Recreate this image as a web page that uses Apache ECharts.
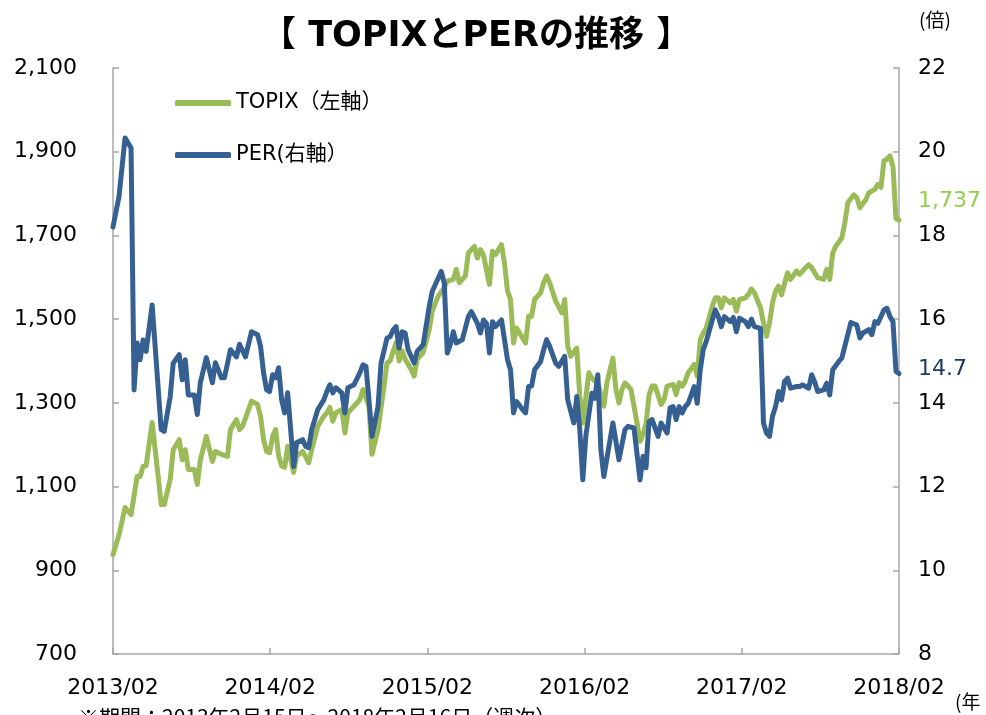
<!DOCTYPE html>
<html>
<head>
<meta charset="utf-8">
<title>TOPIXとPERの推移</title>
<script src="https://cdn.jsdelivr.net/npm/echarts@6/dist/echarts.min.js"></script>
<style>
  html, body { margin: 0; padding: 0; background: #fff; }
  #main { width: 986px; height: 715px; }
</style>
</head>
<body>
<div id="main"></div>
<script>
// weekly closes from 2013/02/15 (week 0) to 2018/02/16 (week 261)
const yearLabels = ['2013/02', '2014/02', '2015/02', '2016/02', '2017/02', '2018/02'];
const weeksPerYear = 52.2;

// TOPIX (left axis) [week, value]
const topix = [
  [0,937],[2,985],[4,1050],[6,1033],[8,1124],[9,1124],[10,1148],[11,1150],[13,1253],[15,1124],
  [16,1057],[17,1057],[19,1117],[20,1188],[22,1212],[23,1164],[24,1188],[25,1141],[27,1141],[28,1105],
  [29,1164],[31,1220],[33,1160],[34,1184],[36,1177],[38,1172],[39,1236],[41,1260],[42,1236],[43,1244],
  [45,1284],[46,1304],[48,1296],[49,1268],[50,1212],[51,1184],[52,1181],[53,1220],[54,1236],[55,1173],
  [56,1149],[57,1146],[58,1196],[60,1134],[61,1173],[63,1184],[65,1157],[66,1189],[68,1244],[70,1268],
  [71,1276],[72,1289],[73,1256],[74,1276],[76,1284],[77,1228],[78,1276],[80,1292],[82,1308],[83,1332],
  [85,1292],[86,1177],[88,1236],[90,1340],[91,1396],[92,1400],[94,1444],[95,1400],[96,1424],[97,1404],
  [99,1380],[100,1364],[101,1404],[103,1420],[105,1475],[106,1519],[108,1555],[110,1575],[111,1591],[113,1595],
  [114,1619],[115,1587],[117,1603],[118,1658],[120,1674],[121,1646],[122,1666],[123,1654],[125,1583],[126,1662],
  [127,1654],[129,1678],[130,1634],[131,1567],[132,1547],[133,1443],[134,1479],[135,1467],[137,1443],[138,1507],
  [139,1507],[140,1547],[142,1563],[143,1587],[144,1603],[145,1587],[147,1543],[149,1515],[150,1547],[151,1435],
  [152,1411],[154,1431],[155,1316],[156,1252],[158,1372],[159,1360],[160,1352],[161,1348],[163,1292],[164,1348],
  [166,1407],[167,1332],[168,1300],[169,1332],[170,1348],[172,1332],[174,1252],[175,1208],[176,1225],[177,1250],
  [178,1318],[179,1340],[180,1340],[182,1296],[183,1308],[184,1340],[186,1344],[187,1320],[188,1348],[189,1340],
  [190,1352],[191,1372],[193,1392],[194,1364],[195,1451],[196,1467],[197,1479],[199,1531],[200,1551],[201,1551],
  [202,1527],[203,1551],[205,1539],[206,1547],[207,1519],[208,1547],[210,1551],[211,1559],[212,1572],[213,1563],
  [215,1527],[216,1491],[217,1459],[218,1491],[219,1539],[220,1567],[221,1579],[222,1558],[224,1611],[225,1595],
  [227,1615],[228,1607],[230,1623],[231,1630],[232,1623],[234,1599],[236,1595],[237,1619],[238,1595],[239,1658],
  [240,1674],[242,1694],[243,1730],[244,1778],[246,1797],[247,1790],[248,1766],[250,1786],[251,1802],[253,1810],
  [254,1822],[255,1815],[256,1878],[257,1882],[258,1890],[259,1865],[260,1740],[261,1737]
];

// PER (right axis) [week, value]
const per = [
  [0,18.2],[2,18.93],[4,20.33],[6,20.09],[7,14.31],[8,15.43],[9,15.03],[10,15.5],[11,15.23],[13,16.34],
  [16,13.36],[17,13.32],[19,14.15],[20,14.95],[22,15.15],[23,14.55],[24,15.03],[25,14.19],[27,14.19],[28,13.72],
  [29,14.48],[31,15.08],[33,14.48],[34,14.96],[36,14.6],[37,14.6],[39,15.27],[41,15.1],[42,15.4],[44,15.1],
  [46,15.7],[48,15.63],[49,15.35],[50,14.72],[51,14.31],[52,14.27],[53,14.67],[54,14.6],[55,14.84],[56,14.07],
  [57,13.76],[58,14.24],[60,12.48],[61,13.05],[63,13.12],[64,12.96],[65,12.93],[66,13.36],[68,13.84],[70,14.07],
  [71,14.27],[72,14.43],[73,14.24],[74,14.36],[76,14.24],[77,13.76],[78,14.36],[80,14.43],[82,14.72],[83,14.91],
  [84,14.87],[85,14.07],[86,13.2],[88,13.91],[89,14.95],[91,15.55],[92,15.58],[93,15.74],[94,15.82],[95,15.31],
  [96,15.7],[97,15.67],[98,15.27],[100,14.95],[101,15.23],[103,15.39],[105,16.3],[106,16.66],[107,16.82],[109,17.14],
  [110,16.86],[111,15.19],[112,15.39],[113,15.7],[114,15.43],[116,15.51],[118,16.06],[119,16.18],[121,15.9],[122,15.67],
  [123,15.98],[124,15.9],[125,15.19],[126,15.94],[127,15.82],[129,15.98],[131,15.03],[132,14.79],[133,13.76],[134,14.03],
  [136,13.84],[137,13.76],[138,14.39],[139,14.4],[140,14.79],[142,14.99],[143,15.27],[144,15.51],[145,15.35],[147,14.95],
  [148,14.87],[150,15.11],[151,14.07],[153,13.52],[154,14.15],[155,13.36],[156,12.16],[157,13.2],[159,14.23],[160,14.11],
  [161,14.67],[162,12.88],[163,12.24],[166,13.52],[168,12.64],[170,13.36],[171,13.44],[173,13.4],[175,12.16],[176,12.72],
  [177,12.45],[178,13.55],[179,13.6],[181,13.2],[182,13.52],[184,13.28],[185,13.88],[186,13.91],[187,13.6],[188,13.91],
  [189,13.76],[190,13.91],[191,13.99],[193,14.39],[194,13.99],[195,14.79],[196,15.27],[197,15.47],[199,15.98],[200,16.22],
  [201,16.06],[202,15.82],[203,16.06],[204,16.0],[205,15.94],[206,16.04],[207,15.7],[208,16.02],[210,15.94],[211,15.82],
  [212,16.0],[213,15.82],[215,15.78],[216,13.52],[217,13.28],[218,13.2],[219,13.68],[220,13.91],[221,14.27],[222,14.07],
  [223,14.51],[224,14.59],[225,14.35],[227,14.39],[228,14.39],[229,14.43],[230,14.39],[231,14.35],[232,14.67],[233,14.5],
  [234,14.27],[236,14.31],[237,14.47],[238,14.19],[239,14.79],[241,14.99],[242,15.07],[243,15.35],[244,15.63],[245,15.92],
  [247,15.86],[248,15.55],[249,15.67],[251,15.75],[252,15.63],[253,15.94],[254,15.9],[256,16.22],[257,16.26],[258,16.06],
  [259,15.94],[260,14.75],[261,14.7]
];

const GREEN = '#9BBB59';
const BLUE = '#376092';
const AXIS = '#A6A6A6';
const FONT = "'DejaVu Sans', 'Noto Sans CJK JP', sans-serif";
const JP_FONT = "'Noto Sans CJK JP', sans-serif";

const chart = echarts.init(document.getElementById('main'));

const option = {
  animation: false,
  backgroundColor: '#fff',
  textStyle: { fontFamily: FONT },
  title: {
    text: '【 TOPIXとPERの推移 】',
    left: 256,
    top: 14,
    textStyle: { fontFamily: FONT, fontWeight: 'bold', fontSize: 35, color: '#000' }
  },
  legend: {
    orient: 'vertical',
    left: 170,
    top: 85,
    itemWidth: 56,
    itemHeight: 6,
    itemGap: 26,
    textStyle: { fontSize: 21, color: '#000', fontFamily: FONT, lineHeight: 26 },
    data: [
      { name: 'TOPIX（左軸）', icon: 'roundRect' },
      { name: 'PER(右軸）', icon: 'roundRect' }
    ]
  },
  grid: { left: 113, right: 87, top: 68, bottom: 61, containLabel: false },
  xAxis: {
    type: 'value',
    min: 0,
    max: 261,
    interval: weeksPerYear,
    axisLine: { lineStyle: { color: AXIS, width: 1.5 } },
    axisTick: { inside: true, length: 6, lineStyle: { color: AXIS, width: 1.5 } },
    splitLine: { show: false },
    axisLabel: {
      margin: 23,
      fontSize: 22,
      color: '#000',
      formatter: v => yearLabels[Math.round(v / weeksPerYear)] || ''
    }
  },
  yAxis: [
    {
      type: 'value',
      min: 700,
      max: 2100,
      interval: 200,
      axisLine: { show: true, lineStyle: { color: AXIS, width: 1.5 } },
      axisTick: { show: true, inside: true, length: 6, lineStyle: { color: AXIS, width: 1.5 } },
      splitLine: { show: false },
      axisLabel: {
        margin: 36,
        fontSize: 22,
        color: '#000',
        formatter: v => v.toLocaleString('en-US')
      }
    },
    {
      type: 'value',
      min: 8,
      max: 22,
      interval: 2,
      position: 'right',
      axisLine: { show: true, lineStyle: { color: AXIS, width: 1.5 } },
      axisTick: { show: true, inside: true, length: 6, lineStyle: { color: AXIS, width: 1.5 } },
      splitLine: { show: false },
      axisLabel: { margin: 19, fontSize: 22, color: '#000' }
    }
  ],
  series: [
    {
      name: 'TOPIX（左軸）',
      type: 'line',
      yAxisIndex: 0,
      data: topix,
      showSymbol: false,
      color: GREEN,
      lineStyle: { width: 5, color: GREEN, cap: 'round', join: 'round' },
      endLabel: {
        show: true,
        distance: 19,
        offset: [0, -19],
        fontSize: 22,
        color: '#92D050',
        fontFamily: FONT,
        formatter: p => p.value[1].toLocaleString('en-US')
      }
    },
    {
      name: 'PER(右軸）',
      type: 'line',
      yAxisIndex: 1,
      data: per,
      showSymbol: false,
      color: BLUE,
      lineStyle: { width: 5, color: BLUE, cap: 'round', join: 'round' },
      endLabel: {
        show: true,
        distance: 19,
        offset: [0, -4],
        fontSize: 22,
        color: '#1F3864',
        fontFamily: FONT,
        formatter: p => p.value[1].toFixed(1)
      }
    }
  ],
  graphic: [
    {
      type: 'text', left: 919, top: 10,
      style: { text: '(倍)', fontSize: 19, fontFamily: JP_FONT, fill: '#000' }
    },
    {
      type: 'text', left: 955, top: 692,
      style: { text: '(年', fontSize: 19, fontFamily: JP_FONT, fill: '#000' }
    },
    {
      type: 'text', left: 78, top: 707,
      style: { text: '※期間：2013年2月15日～2018年2月16日（週次）', fontSize: 21, fontFamily: JP_FONT, fill: '#000' }
    }
  ]
};

chart.setOption(option);
</script>
</body>
</html>
